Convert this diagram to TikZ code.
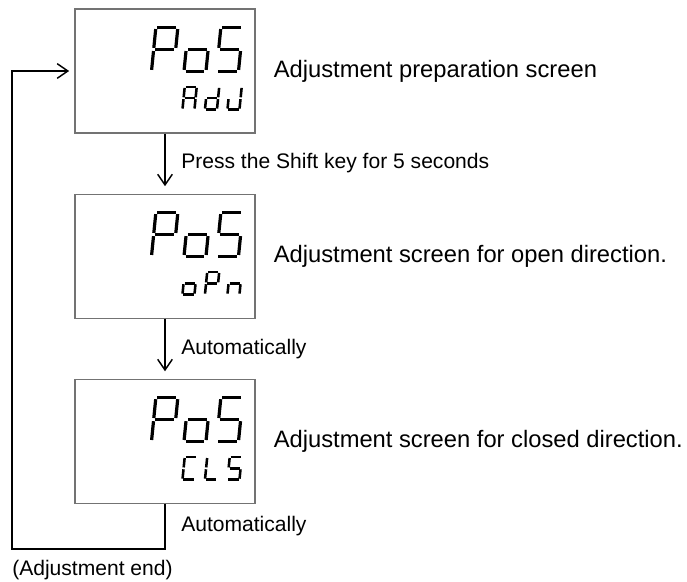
\documentclass[tikz,border=0pt]{standalone}
\usepackage{fontspec}
\setmainfont{Liberation Sans}
\usepackage{tikz}
\usetikzlibrary{arrows.meta,positioning,calc}

% one seven-segment digit: bottom-left, width, height, lit segments, stroke, gap
\newcommand{\segdigit}[6]{%
  \begin{scope}[shift={#1}, xslant=0.1]
    \coordinate (a1) at (0,-#3);     \coordinate (a2) at (#2,-#3);
    \coordinate (b1) at (#2,-#3);    \coordinate (b2) at (#2,-#3/2);
    \coordinate (c1) at (#2,-#3/2);  \coordinate (c2) at (#2,0);
    \coordinate (d1) at (0,0);       \coordinate (d2) at (#2,0);
    \coordinate (e1) at (0,-#3/2);   \coordinate (e2) at (0,0);
    \coordinate (f1) at (0,-#3);     \coordinate (f2) at (0,-#3/2);
    \coordinate (g1) at (0,-#3/2);   \coordinate (g2) at (#2,-#3/2);
    \foreach \s in {#4} {\draw[segline=#6, line width=#5] (\s1) -- (\s2);}
  \end{scope}}

% PoS on top, three small digits below
\newcommand{\screenface}[4]{%
  \begin{scope}[shift={(#1.north west)}]
    \segdigit{(77,63)}{22}{44}{a,b,e,f,g}{2.4pt}{1.2pt}
    \segdigit{(109.5,63)}{22}{44}{c,d,e,g}{2.4pt}{1.2pt}
    \segdigit{(142,63)}{22}{44}{a,c,d,f,g}{2.4pt}{1.2pt}
    \segdigit{(108,101)}{12}{22.5}{#2}{1.9pt}{0.7pt}
    \segdigit{(130.5,101)}{12}{22.5}{#3}{1.9pt}{0.7pt}
    \segdigit{(153,101)}{12}{22.5}{#4}{1.9pt}{0.7pt}
  \end{scope}}

\begin{document}
\begin{tikzpicture}[
  x=0.75pt, y=-0.75pt,
  display/.style={draw=black!55, line width=0.8pt, minimum width=135pt,
                  minimum height=93pt, inner sep=0pt},
  caption/.style={font=\fontsize{17.8}{20}\selectfont, inner sep=0pt, anchor=west},
  note/.style={font=\fontsize{15.8}{18}\selectfont, inner sep=0pt, anchor=west},
  arrow/.style={-{Straight Barb[length=8pt, width=11pt]}, line width=1.1pt},
  segline/.style={line cap=butt, shorten <=#1, shorten >=#1}
]
  \useasboundingbox (0,0) rectangle (687,582);

  \node[display] (adj) at (165,71) {};
  \node[display, below=45pt of adj] (opn) {};
  \node[display, below=45pt of opn] (cls) {};

  \screenface{adj}{a,b,c,e,f,g}{b,c,d,e,g}{b,c,d,e}
  \screenface{opn}{c,d,e,g}{a,b,e,f,g}{c,e,g}
  \screenface{cls}{a,d,e,f}{d,e,f}{a,c,d,f,g}

  \node[caption, right=13.5pt of adj] (prep) {Adjustment preparation screen};
  \node[caption, right=13.5pt of opn] (open) {Adjustment screen for open direction.};
  \node[caption, right=13.5pt of cls] (close) {Adjustment screen for closed direction.};

  \coordinate (loopend) at (12,549);

  \draw[arrow, shorten >=5.5pt] (adj) -- (opn);
  \draw[arrow, shorten >=5.5pt] (opn) -- (cls);
  \draw[arrow, shorten >=4pt] (cls.south) |- (loopend) |- (adj.west);

  \node[note] (shift) at ($(adj.south)!0.5!(opn.north)+(16,0)$) {Press the Shift key for 5 seconds};
  \node[note] (auto1) at ($(opn.south)!0.5!(cls.north)+(16,0)$) {Automatically};
  \node[note] (auto2) at ($(cls.south)!0.5!(cls.south |- loopend)+(16,0)$) {Automatically};
  \node[note, anchor=north west] (done) at ($(loopend)+(0,11)$) {(Adjustment end)};
\end{tikzpicture}
\end{document}
